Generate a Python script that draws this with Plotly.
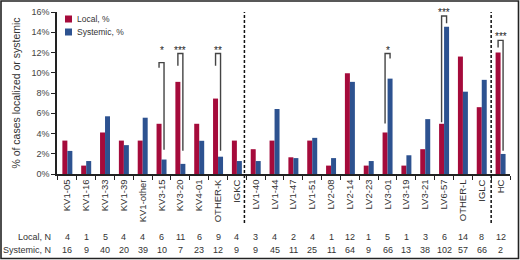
import plotly.graph_objects as go

categories = ["KV1-05", "KV1-16", "KV1-33", "KV1-39", "KV1-other", "KV3-15", "KV3-20",
              "KV4-01", "OTHER-K", "IGKC", "LV1-40", "LV1-44", "LV1-47", "LV1-51",
              "LV2-08", "LV2-14", "LV2-23", "LV3-01", "LV3-19", "LV3-21", "LV6-57",
              "OTHER-L", "IGLC", "HC"]
local_pct = [3.3, 0.83, 4.1, 3.3, 3.3, 4.96, 9.1, 4.96, 7.45, 3.3, 2.45, 3.3, 1.65, 3.3,
             0.83, 9.95, 0.83, 4.1, 0.83, 2.45, 4.96, 11.6, 6.6, 12.0]
systemic_pct = [2.28, 1.28, 5.7, 2.85, 5.56, 1.43, 1.0, 3.28, 1.71, 1.28, 1.28, 6.42, 1.57,
                3.57, 1.57, 9.1, 1.28, 9.42, 1.85, 5.42, 14.55, 8.13, 9.3, 1.98]
local_n = [4, 1, 5, 4, 4, 6, 11, 6, 9, 4, 3, 4, 2, 4, 1, 12, 1, 5, 1, 3, 6, 14, 8, 12]
systemic_n = [16, 9, 40, 20, 39, 10, 7, 23, 12, 9, 9, 45, 11, 25, 11, 64, 9, 66, 13, 38,
              102, 57, 66, 2]
series_names = ["Local, %", "Systemic, %"]
row_labels = ["Local, N", "Systemic, N"]
y_ticks = [0, 2, 4, 6, 8, 10, 12, 14, 16]
y_tick_labels = ["0%", "2%", "4%", "6%", "8%", "10%", "12%", "14%", "16%"]

# significance brackets
sig_cats = ["KV3-15", "KV3-20", "OTHER-K", "LV3-01", "LV6-57", "HC"]
sig_marks = ["*", "***", "**", "*", "***", "***"]
sig_top = [11.0, 11.9, 11.9, 11.9, 15.6, 13.2]
sig_short = [10.5, 10.7, 10.7, 11.4, 14.9, 12.5]
sig_long = [2.4, 2.3, 2.3, 5.0, 5.1, 2.3]
sig_label_y = [11.9, 11.9, 11.9, 11.9, 15.6, 13.2]

RED = "#A50B3B"
BLUE = "#2D5290"
FONT = "Liberation Sans, Arial, sans-serif"
TXT = "#333333"

W, H = 520, 260
ML, MR, MT, MB = 57, 10, 12, 86
PW, PH = W - ML - MR, H - MT - MB

def px_x(px):
    return (px - ML) / PW

def px_y(py):
    return (H - MB - py) / PH

fig = go.Figure()
fig.add_trace(go.Bar(x=categories, y=local_pct, name=series_names[0],
                     marker=dict(color=RED, line=dict(width=0)), showlegend=False,
                     hoverinfo="skip"))
fig.add_trace(go.Bar(x=categories, y=systemic_pct, name=series_names[1],
                     marker=dict(color=BLUE, line=dict(width=0)), showlegend=False,
                     hoverinfo="skip"))

shapes = []
annotations = []
off = 0.1325
for cat, mark, top, short, long_, ly in zip(sig_cats, sig_marks, sig_top, sig_short,
                                             sig_long, sig_label_y):
    i = categories.index(cat)
    xl, xr = i - off, i + off
    # long leg goes to the smaller bar
    if systemic_pct[i] < local_pct[i]:
        yl, yr = short, long_
    else:
        yl, yr = long_, short
    path = f"M {xl} {yl} L {xl} {top} L {xr} {top} L {xr} {yr}"
    shapes.append(dict(type="path", path=path, xref="x", yref="y",
                       line=dict(color="#444444", width=1.4)))
    annotations.append(dict(x=i, y=ly, xref="x", yref="y", text=mark, showarrow=False,
                            yanchor="bottom", yshift=-4,
                            font=dict(family=FONT, size=10, color="#222222")))

# dashed separators
for xpos in [9.4, 22.5]:
    shapes.append(dict(type="line", xref="x", yref="paper", x0=xpos, x1=xpos,
                       y0=px_y(223), y1=1.0,
                       line=dict(color="#111111", width=1.5, dash="3px,2px")))

# frame
shapes.append(dict(type="rect", xref="paper", yref="paper",
                   x0=px_x(1), x1=px_x(518.5), y0=px_y(258.5), y1=px_y(1),
                   line=dict(color="#222222", width=1.6)))

# manual legend
for k, (nm, col) in enumerate(zip(series_names, [RED, BLUE])):
    cy = 19 + 13 * k
    shapes.append(dict(type="rect", xref="paper", yref="paper",
                       x0=px_x(65), x1=px_x(72), y0=px_y(cy + 3.5), y1=px_y(cy - 3.5),
                       fillcolor=col, line=dict(width=0)))
    annotations.append(dict(x=px_x(75), y=px_y(cy), xref="paper", yref="paper", text=nm,
                            showarrow=False, xanchor="left", yanchor="middle",
                            font=dict(family=FONT, size=8.5, color=TXT)))

# N table
for r, (lab, vals) in enumerate(zip(row_labels, [local_n, systemic_n])):
    ypos = px_y(237 + 13 * r)
    annotations.append(dict(x=px_x(53), y=ypos, xref="paper", yref="paper", text=lab,
                            showarrow=False, xanchor="right", yanchor="middle",
                            font=dict(family=FONT, size=9, color=TXT)))
    for i, v in enumerate(vals):
        annotations.append(dict(x=i, y=ypos, xref="x", yref="paper", text=str(v),
                                showarrow=False, xanchor="center", yanchor="middle",
                                font=dict(family=FONT, size=9, color=TXT)))

fig.update_layout(
    width=W, height=H, autosize=False,
    margin=dict(l=ML, r=MR, t=MT, b=MB, pad=0),
    paper_bgcolor="white", plot_bgcolor="white",
    barmode="group", bargap=0.47, bargroupgap=0,
    font=dict(family=FONT, size=10, color=TXT),
    shapes=shapes, annotations=annotations,
    xaxis=dict(type="category", range=[-0.55, 23.5], showline=True, linecolor="#222222",
               linewidth=1.5, ticks="outside", ticklen=4, tickcolor="#222222",
               tickwidth=1.2, tickson="boundaries", tickangle=-90, showgrid=False,
               tickfont=dict(family=FONT, size=9.5, color=TXT), automargin=False),
    yaxis=dict(range=[0, 16], tickmode="array", tickvals=y_ticks, ticktext=y_tick_labels,
               showline=True,
               linecolor="#222222", linewidth=1.5, ticks="outside", ticklen=4,
               tickcolor="#222222", tickwidth=1.2, showgrid=False, zeroline=False,
               tickfont=dict(family=FONT, size=9, color="#444444"),
               title=dict(text="% of cases localized or systemic",
                          font=dict(family=FONT, size=10.5, color=TXT), standoff=9),
               automargin=False),
)

fig.write_html("out.html", config={"displayModeBar": False},
               post_script="document.body.style.margin='0';document.body.style.padding='0';")
